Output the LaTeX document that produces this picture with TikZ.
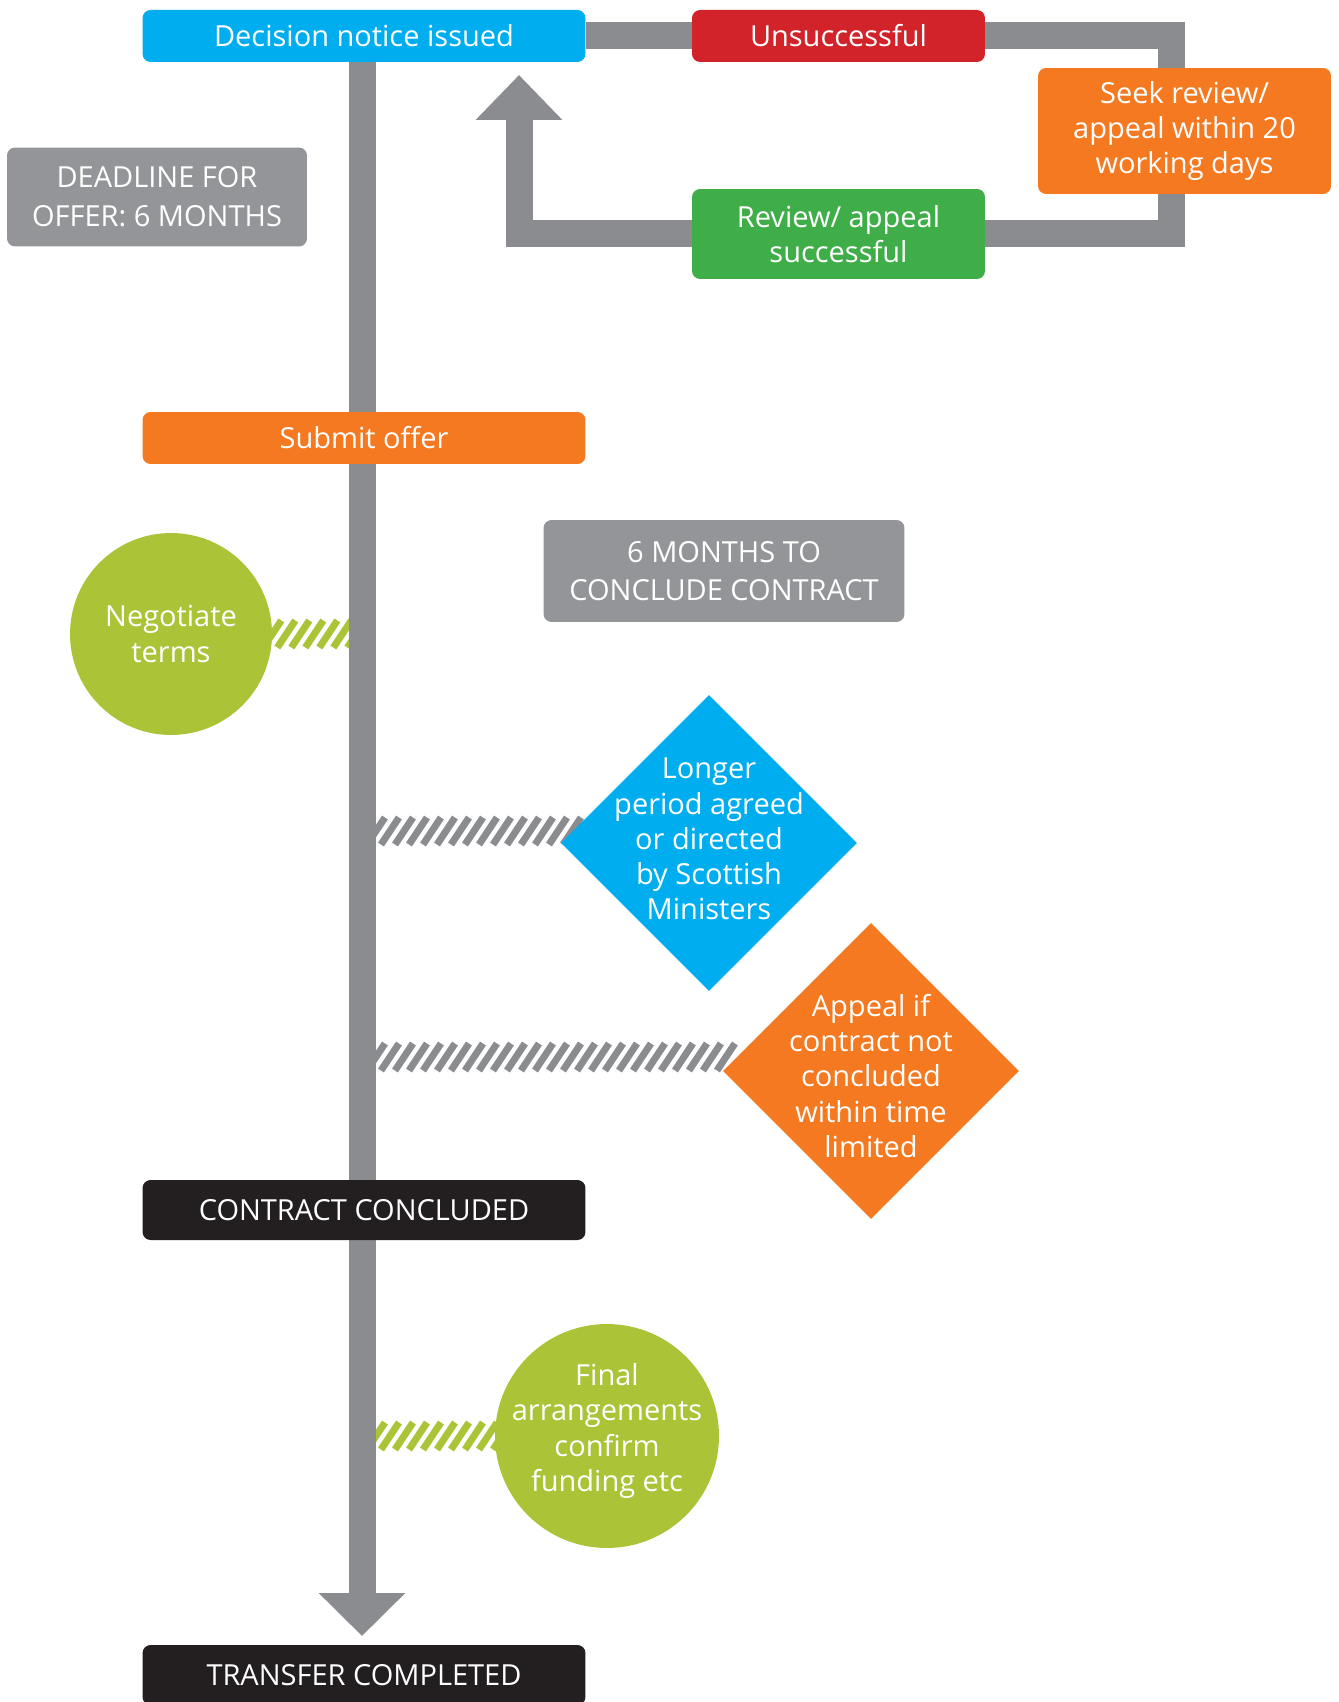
\documentclass[tikz,border=0pt]{standalone}
\usepackage{fontspec}
\setmainfont{Open Sans}
\usetikzlibrary{arrows.meta, shapes.geometric, backgrounds, decorations.markings}
\definecolor{cblue}{HTML}{00AEEF}
\definecolor{cred}{HTML}{D2232A}
\definecolor{corange}{HTML}{F47920}
\definecolor{cgreen}{HTML}{3FAE49}
\definecolor{clime}{HTML}{ABC337}
\definecolor{cgrey}{HTML}{8B8C90}
\definecolor{cgreybox}{HTML}{939598}
\definecolor{cblack}{HTML}{231F20}

\begin{document}
\begin{tikzpicture}[x=0.02cm, y=-0.02cm,
    box/.style={rectangle, rounded corners=0.16cm, minimum height=1.04cm, inner sep=0pt,
        text=white, align=center, font=\fontsize{16.5}{20}\selectfont},
    caps/.style={font=\fontsize{16.5}{22}\selectfont},
    txt/.style={text=white, align=center, inner sep=0pt, font=\fontsize{16.5}{20}\selectfont},
    blob/.style={circle, inner sep=0pt},
    gem/.style={diamond, aspect=1, inner sep=0pt, minimum width=5.92cm, minimum height=5.92cm},
    band/.style={draw=cgrey, line width=0.54cm},
    hatch/.style={postaction={decorate}, decoration={markings,
        mark=between positions 0 and 1 step 0.28cm with {\draw[line width=0.14cm, draw=#1] (-0.18cm,-0.27cm) -- (0.18cm,0.27cm);}}}]
    \useasboundingbox (0,0) rectangle (1338,1702);

    \node[box, fill=cblue, minimum width=8.86cm] (dec) at (364,36) {Decision notice issued};
    \node[box, fill=cred, minimum width=5.86cm] (unsucc) at (838.5,36) {Unsuccessful};
    \node[box, fill=corange, minimum width=5.86cm, minimum height=2.52cm] (seek) at (1184.5,131) {Seek review/\\appeal within 20\\working days};
    \node[box, fill=cgreen, minimum width=5.86cm, minimum height=1.8cm] (succ) at (838.5,234) {Review/ appeal\\successful};
    \node[box, caps, fill=cgreybox, minimum width=6cm, minimum height=1.98cm] (deadline) at (157,197) {DEADLINE FOR\\OFFER: 6 MONTHS};
    \node[box, fill=corange, minimum width=8.86cm] (submit) at (364,438) {Submit offer};
    \node[box, caps, fill=cgreybox, minimum width=7.22cm, minimum height=2.04cm] (months) at (724,571) {6 MONTHS TO\\CONCLUDE CONTRACT};
    \node[blob, fill=clime, minimum size=4.04cm] (nego) at (171,634) {};
    \node[txt] (negotext) at (nego) {Negotiate\\terms};
    \node[gem, fill=cblue] (longer) at (709,843) {};
    \node[txt] (longertext) at ([yshift=0.08cm]longer) {Longer\\period agreed\\or directed\\by Scottish\\Ministers};
    \node[gem, fill=corange] (appeal) at (871,1071) {};
    \node[txt] (appealtext) at ([yshift=-0.1cm]appeal) {Appeal if\\contract not\\concluded\\within time\\limited};
    \node[box, fill=cblack, minimum width=8.86cm, minimum height=1.2cm] (concl) at (364,1210) {CONTRACT CONCLUDED};
    \node[blob, fill=clime, minimum size=4.48cm] (final) at (607,1436) {};
    \node[txt] (finaltext) at ([yshift=0.1cm]final) {Final\\arrangements\\confirm\\funding etc};
    \node[box, fill=cblack, minimum width=8.86cm, minimum height=1.2cm] (transfer) at (364,1675) {TRANSFER COMPLETED};
    \coordinate (uptip) at (519,75);
    \coordinate (downtip) at (362,1636);

    \begin{scope}[on background layer]
        \path[hatch=clime] (nego.east) -- (nego.east -| downtip);
        \path[hatch=cgrey] ([yshift=0.24cm]longer.west -| downtip) -- ([xshift=0.3cm, yshift=0.24cm]longer.west);
        \path[hatch=cgrey] ([yshift=0.28cm]appeal.west -| downtip) -- ([xshift=0.3cm, yshift=0.28cm]appeal.west);
        \path[hatch=clime] (final.west -| downtip) -- ([xshift=0.3cm]final.west);
        \draw[band] (dec) -- (unsucc);
        \draw[band] (unsucc) -| ([xshift=-0.27cm]seek.north);
        \draw[band] ([xshift=-0.27cm]seek.south) |- (succ);
        \draw[band, -{Triangle[width=1.68cm, length=0.9cm]}] (succ) -| (uptip);
        \draw[band, -{Triangle[width=1.68cm, length=0.86cm]}] (dec.south -| downtip) -- (downtip);
    \end{scope}
\end{tikzpicture}
\end{document}
